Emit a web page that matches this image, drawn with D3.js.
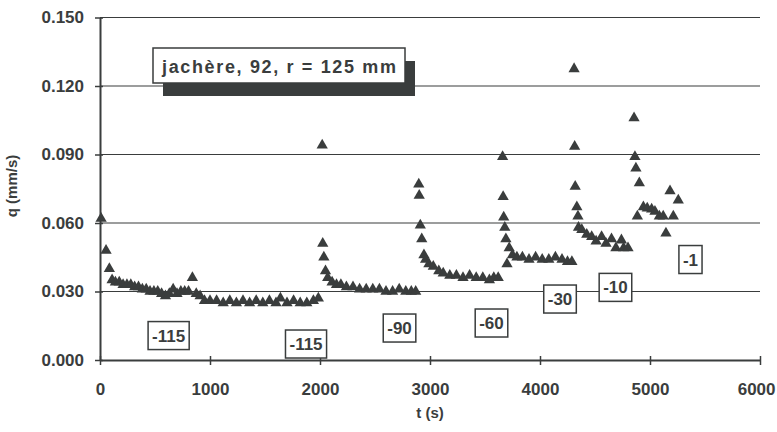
<!DOCTYPE html>
<html><head><meta charset="utf-8">
<script src="https://cdn.jsdelivr.net/npm/d3@7"></script>
<style>body{margin:0;background:#fff}svg{display:block}</style>
</head><body><svg id="c" width="777" height="432"></svg>
<script>
// ---- data ----
const xTicks = [0,1000,2000,3000,4000,5000,6000];
const yTicks = [0.000,0.030,0.060,0.090,0.120,0.150];
const titleText = "jachère, 92, r = 125 mm";
const seg1 = [[10,0.062],[55,0.048],[85,0.040],[110,0.035],[140,0.034],[175,0.034],[210,0.033],[245,0.033],[280,0.033],[315,0.032],[350,0.032],[385,0.031],[420,0.031],[455,0.030],[490,0.030],[525,0.030],[560,0.029],[595,0.028],[630,0.029],[665,0.031],[700,0.029],[735,0.030],[770,0.030],[805,0.030],[840,0.036],[875,0.029],[910,0.028],[950,0.026],[1000,0.026],[1060,0.026],[1120,0.025],[1180,0.026],[1240,0.025],[1300,0.026],[1360,0.025],[1420,0.026],[1480,0.025],[1540,0.026],[1600,0.025],[1640,0.027],[1700,0.025],[1760,0.026],[1820,0.025],[1880,0.025],[1940,0.026],[1985,0.027]];
const seg2 = [[2020,0.094],[2025,0.051],[2035,0.045],[2050,0.039],[2070,0.036],[2110,0.034],[2150,0.033],[2190,0.033],[2240,0.032],[2300,0.032],[2360,0.031],[2420,0.031],[2480,0.031],[2540,0.031],[2600,0.030],[2660,0.030],[2720,0.031],[2780,0.030],[2830,0.030],[2870,0.030]];
const seg3 = [[2898,0.077],[2902,0.072],[2912,0.059],[2925,0.053],[2945,0.046],[2960,0.044],[2990,0.042],[3030,0.041],[3080,0.039],[3120,0.038],[3180,0.037],[3240,0.037],[3300,0.036],[3360,0.037],[3420,0.036],[3480,0.036],[3540,0.035],[3580,0.036],[3620,0.036]];
const seg4 = [[3660,0.089],[3665,0.0715],[3670,0.0625],[3680,0.058],[3690,0.053],[3700,0.042],[3720,0.049],[3750,0.046],[3790,0.045],[3840,0.045],[3900,0.044],[3960,0.045],[4020,0.044],[4080,0.044],[4140,0.045],[4200,0.044],[4250,0.043],[4290,0.043]];
const seg5 = [[4310,0.1275],[4315,0.0935],[4320,0.076],[4335,0.067],[4345,0.063],[4350,0.058],[4380,0.057],[4425,0.055],[4470,0.054],[4510,0.052],[4560,0.054],[4600,0.051],[4650,0.053],[4690,0.049],[4740,0.0525],[4760,0.049],[4800,0.049]];
const seg6 = [[4855,0.106],[4863,0.089],[4872,0.084],[4885,0.063],[4903,0.0775],[4940,0.067],[4975,0.0665],[5015,0.066],[5045,0.065],[5085,0.063],[5120,0.063],[5145,0.0555],[5182,0.074],[5212,0.063],[5257,0.070]];
const tensionLabels = ["-115","-115","-90","-60","-30","-10","-1"];
const tensionT = [624,1873,2723,3559,4182,4686,5368];
const tensionQ = [0.0107,0.007,0.014,0.0162,0.0267,0.0318,0.044];

// ---- drawing ----
const ink = "#3a3d3d";
const svg = d3.select("#c");
const x = d3.scaleLinear().domain([0,6000]).range([100,760]);
const y = d3.scaleLinear().domain([0,0.15]).range([360,17.5]);
const font = "'Liberation Sans', Arial, sans-serif";

// gridlines
svg.append("g").selectAll("line").data(yTicks.filter(d=>d>0)).join("line")
  .attr("x1",x(0)).attr("x2",x(6000)).attr("y1",d=>y(d)).attr("y2",d=>y(d))
  .attr("stroke",ink).attr("stroke-width",1.1);

// axes
const ya = svg.append("g").attr("transform",`translate(${x(0)},0)`)
  .call(d3.axisLeft(y).tickValues(yTicks).tickFormat(d3.format(".3f")).tickSizeInner(5).tickSizeOuter(0).tickPadding(11));
ya.select(".domain").attr("stroke",ink).attr("stroke-width",2);
ya.selectAll(".tick line").attr("stroke",ink).attr("stroke-width",1.5).attr("x2",-5).attr("x1",3);
ya.selectAll(".tick text").attr("font-family",font).attr("font-size",17).attr("font-weight","bold").attr("fill",ink);

const xa = svg.append("g").attr("transform",`translate(0,${y(0)})`)
  .call(d3.axisBottom(x).tickValues(xTicks).tickFormat(d3.format("d")).tickSizeInner(5).tickSizeOuter(0).tickPadding(18));
xa.select(".domain").attr("stroke",ink).attr("stroke-width",2);
xa.selectAll(".tick line").attr("stroke",ink).attr("stroke-width",1.5).attr("y1",-4).attr("y2",5);
xa.selectAll(".tick text").attr("font-family",font).attr("font-size",17).attr("font-weight","bold").attr("fill",ink);
// keep the last label inside the window
xa.selectAll(".tick text").filter(d=>d===6000).attr("text-anchor","end").attr("x",15);

// axis titles
svg.append("text").attr("x",430).attr("y",418).attr("text-anchor","middle")
  .attr("font-family",font).attr("font-size",15).attr("font-weight","bold").attr("fill",ink).text("t (s)");
svg.append("text").attr("transform","translate(17,186) rotate(-90)").attr("text-anchor","middle")
  .attr("font-family",font).attr("font-size",15).attr("font-weight","bold").attr("fill",ink).text("q (mm/s)");

// markers
const all = [].concat(seg1,seg2,seg3,seg4,seg5,seg6);
const tri = d3.symbol().type(d3.symbolTriangle).size(55);
svg.append("g").selectAll("path").data(all).join("path")
  .attr("d",tri).attr("transform",d=>`translate(${x(d[0])},${y(d[1])})`).attr("fill",ink);

// title box with shadow
const bx=153, by=48, bw=252, bh=35;
svg.append("rect").attr("x",bx+10).attr("y",by+13).attr("width",bw).attr("height",bh).attr("fill",ink);
svg.append("rect").attr("x",bx).attr("y",by).attr("width",bw).attr("height",bh).attr("fill","#fff").attr("stroke",ink).attr("stroke-width",1.5);
svg.append("text").attr("x",bx+9).attr("y",by+25).attr("textLength",234).attr("lengthAdjust","spacing")
  .attr("font-family",font).attr("font-size",18).attr("font-weight","bold").attr("fill",ink).text(titleText);

// tension labels
const lg = svg.append("g");
tensionLabels.forEach((t,i)=>{
  const cx=x(tensionT[i]), cy=y(tensionQ[i]);
  const g = lg.append("g");
  const r = g.append("rect");
  const tx = g.append("text").attr("x",cx).attr("y",cy+6).attr("text-anchor","middle")
    .attr("font-family",font).attr("font-size",17).attr("font-weight","bold").attr("fill",ink).text(t);
  const w = tx.node().getComputedTextLength()+8;
  r.attr("x",cx-w/2).attr("y",cy-14).attr("width",w).attr("height",28).attr("fill","#fff").attr("stroke",ink).attr("stroke-width",1.5);
});
</script></body></html>
